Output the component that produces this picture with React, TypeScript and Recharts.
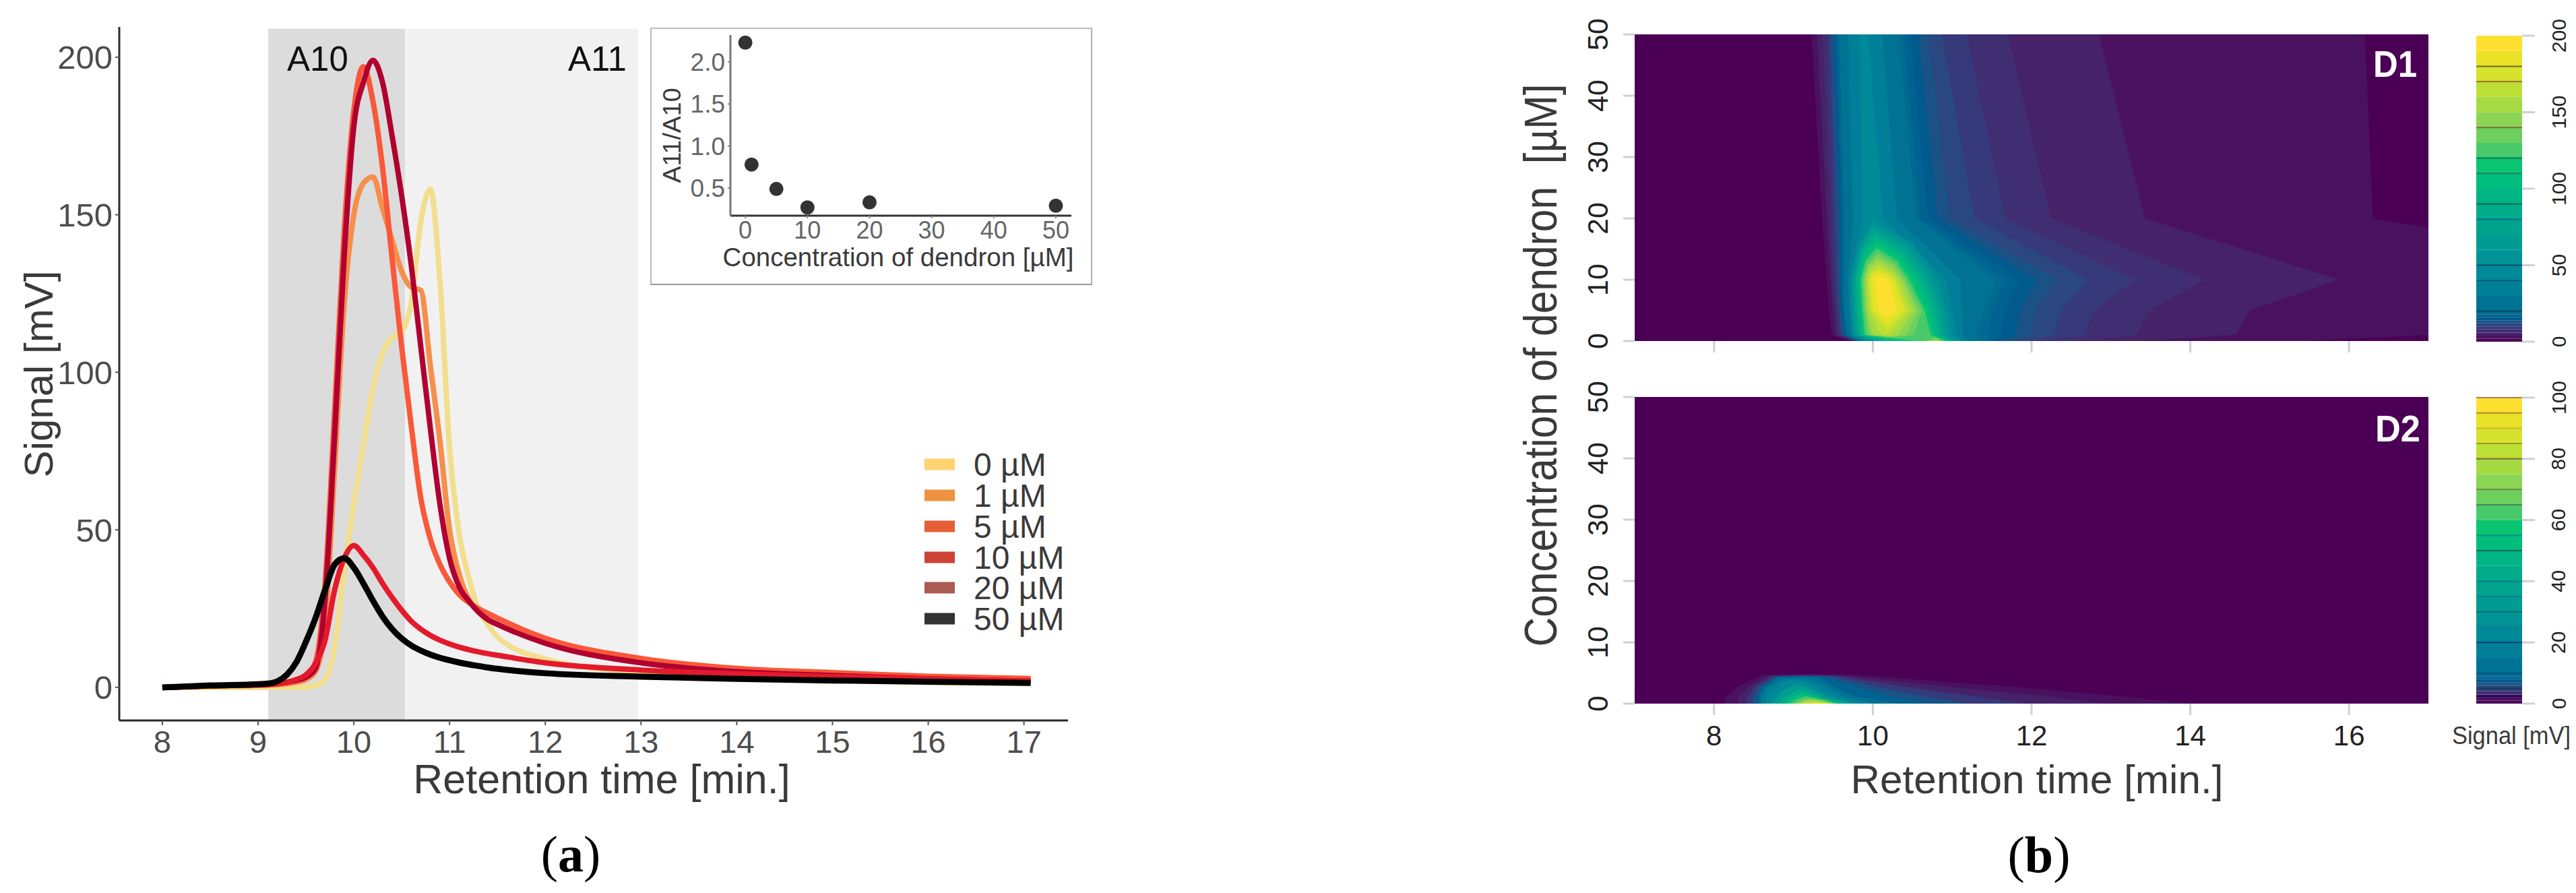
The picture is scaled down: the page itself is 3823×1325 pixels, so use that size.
import {
  Area,
  Bar,
  BarChart,
  ComposedChart,
  Line,
  ReferenceArea,
  ReferenceLine,
  Scatter,
  ScatterChart,
  XAxis,
  YAxis,
} from "recharts"

const SANS = "'Liberation Sans', Arial, sans-serif"

// panel (a): chromatograms, one value per entry of timeKnots
const timeKnots = [
  8, 8.5, 9, 9.1, 9.2, 9.3, 9.4, 9.5, 9.6, 9.7, 9.8, 9.9, 10, 10.1, 10.2, 10.3, 10.4, 10.5, 10.6, 10.7, 10.8, 10.9,
  11, 11.1, 11.2, 11.3, 11.4, 11.5, 12, 13, 14, 15, 16, 17.07,
]
const signal0 = [
  0, 0, 0, 0, 0, 0, 0, 0.1, 0.6, 2.5, 13, 37, 58, 77, 95, 106, 111, 113, 122, 148, 158, 129, 76, 49, 35, 25, 20, 16,
  9, 4.6, 3, 2.2, 1.6, 1.2,
]
const signal1 = [
  0, 0.4, 0.6, 0.7, 0.9, 1.1, 1.6, 2.5, 5, 20, 70, 122, 150, 160, 162, 152, 142, 132, 127, 126, 102, 78, 50, 36, 28,
  24, 21.5, 20, 14.5, 8.3, 5.4, 4.2, 3.2, 2.4,
]
const signal5 = [
  0, 0.5, 0.9, 1, 1.2, 1.6, 2.2, 3.2, 6, 28, 80, 137, 178, 192, 199, 192, 175, 156, 134, 108, 82, 58, 41, 32, 27.5,
  24, 21.5, 20, 14, 7.8, 5, 3.8, 2.7, 2,
]
const signal10 = [
  0, 0.5, 0.9, 1, 1.2, 1.6, 2.3, 3.5, 8, 33, 88, 145, 183, 197, 186, 165, 136, 108, 83, 60, 47, 39, 33.5, 29.5, 27,
  25, 23.5, 22, 15.6, 9.2, 6, 4.7, 3.5, 2.8,
]
const signal20 = [
  0, 0.5, 0.8, 0.9, 1.1, 1.6, 2.5, 4, 7.6, 15, 31, 41, 45, 42, 38, 33, 28.5, 24.5, 21, 18.5, 16.5, 15, 13.8, 12.8, 12,
  11.3, 10.7, 10.2, 7.8, 5.5, 4.3, 3.4, 2.7, 2,
]
const signal50 = [
  0, 0.6, 1, 1.2, 1.9, 4, 8, 14.5, 22, 31, 39, 41, 38, 33, 27.5, 22.5, 18.5, 15.5, 13.3, 11.7, 10.4, 9.4, 8.6, 7.9,
  7.3, 6.8, 6.3, 5.9, 4.5, 3.4, 2.7, 2.2, 1.8, 1.4,
]
const seriesKeys = ["c0", "c1", "c5", "c10", "c20", "c50"]
const seriesValues = [signal0, signal1, signal5, signal10, signal20, signal50]
const seriesColors = ["#f2df8e", "#f58f4b", "#b00030", "#f9583a", "#e31a2c", "#000000"]
const seriesWidths = [8, 8, 8, 8, 8, 9]
// the 10 uM series sits under the 5 uM one where they cross near the top
const drawOrder = [0, 1, 3, 2, 4, 5]

const legendLabels = ["0 µM", "1 µM", "5 µM", "10 µM", "20 µM", "50 µM"]
const legendColors = ["#ffd470", "#ee9240", "#e45f35", "#cc4437", "#ab5b52", "#333333"]
const legendRows = [689, 735, 781, 827, 872, 918]

const regionEdges = [9.105, 10.535, 12.97]
const signalTicks = [0, 50, 100, 150, 200]
const timeTicksA = [8, 9, 10, 11, 12, 13, 14, 15, 16, 17]

// inset
const insetConc = [0, 1, 5, 10, 20, 50]
const insetRatio = [2.23, 0.78, 0.49, 0.27, 0.33, 0.29]

// panel (b): contour bands, each row is [concentration, left time, right time]
type Row = [number, number, number]
const d1Levels = [0, 2, 4, 6, 8, 10, 12, 14, 16, 18, 20, 30, 40, 50, 60, 70, 80, 90, 100, 110, 120, 130, 140, 150, 160, 170, 180, 190, 200]
const d2Levels = [0, 1, 2, 3, 4, 5, 6, 7, 8, 9, 10, 15, 20, 25, 30, 35, 40, 45, 50, 55, 60, 65, 70, 75, 80, 85, 90, 95, 100]
const bandColors = [
  "#4b0055", "#4a125e", "#462268", "#402e72", "#36397a", "#2a4780", "#1a5286", "#005a8e", "#006290", "#006a90",
  "#007394", "#008098", "#008a98", "#009396", "#009b93", "#00a38e", "#00ac8a", "#00b483", "#00bd7c", "#09c570",
  "#49ca6a", "#6ccf5e", "#8ad553", "#a5da42", "#bdde35", "#d6e22b", "#e9e226", "#fde030",
]

const d1Contours: [number, Row[]][] = [
  [0, [[0, 7, 17], [50, 7, 17]]],
  [2, [[0, 9.71, 15.4], [1, 9.48, 17], [5, 9.45, 17], [10, 9.42, 17], [18.5, 9.37, 17], [20, 9.36, 16.3], [50, 9.23, 16.2]]],
  [4, [[0, 9.75, 13.4], [1, 9.53, 14.57], [5, 9.5, 14.75], [10, 9.47, 15.87], [20, 9.42, 13.43], [50, 9.3, 12.85]]],
  [6, [[0, 9.76, 12.6], [1, 9.56, 13.32], [5, 9.53, 13.49], [10, 9.5, 14.18], [20, 9.47, 12.25], [50, 9.37, 11.7]]],
  [8, [[0, 9.77, 12.2], [1, 9.58, 12.67], [5, 9.55, 12.78], [10, 9.53, 13.3], [20, 9.5, 11.67], [50, 9.43, 11.18]]],
  [10, [[0, 9.78, 11.95], [1, 9.6, 12.28], [5, 9.57, 12.37], [10, 9.55, 12.71], [20, 9.53, 11.28], [50, 9.46, 10.87]]],
  [12, [[0, 9.79, 11.77], [1, 9.62, 12], [5, 9.59, 12.04], [10, 9.57, 12.33], [20, 9.56, 10.97], [50, 9.48, 10.7]]],
  [14, [[0, 9.8, 11.65], [1, 9.64, 11.8], [5, 9.6, 11.85], [10, 9.59, 12.07], [20, 9.58, 10.82], [50, 9.5, 10.57]]],
  [16, [[0, 9.81, 11.52], [1, 9.65, 11.63], [5, 9.62, 11.67], [10, 9.6, 11.85], [20, 9.6, 10.7], [50, 9.53, 10.47]]],
  [18, [[0, 9.82, 11.45], [1, 9.67, 11.46], [5, 9.63, 11.5], [10, 9.615, 11.67], [20, 9.62, 10.6], [50, 9.555, 10.39]]],
  [20, [[0, 9.83, 11.4], [1, 9.68, 11.3], [5, 9.64, 11.41], [10, 9.63, 11.55], [20, 9.64, 10.55], [50, 9.58, 10.32]]],
  [30, [[0, 9.87, 11.24], [1, 9.72, 11.14], [5, 9.7, 11.12], [10, 9.69, 11.1], [20, 9.75, 10.3], [50, 9.69, 10.12]]],
  [40, [[0, 9.91, 11.13], [1, 9.74, 11.05], [5, 9.72, 11], [10, 9.71, 10.92], [20, 9.87, 10.13], [50, 9.835, 9.935]]],
  [50, [[0, 9.95, 11.09], [1, 9.76, 11], [5, 9.74, 10.93], [10, 9.73, 10.83], [15.8, 9.83, 10.51], [19.7, 10, 10]]],
  [60, [[0, 10.01, 11.05], [1, 9.78, 10.94], [5, 9.76, 10.89], [10, 9.75, 10.75], [15.4, 9.84, 10.46], [19, 10, 10]]],
  [70, [[0, 10.06, 11.02], [1, 9.8, 10.9], [5, 9.78, 10.85], [10, 9.77, 10.71], [15, 9.85, 10.43], [18.4, 10.01, 10.01]]],
  [80, [[0, 10.11, 10.99], [1, 9.82, 10.86], [5, 9.8, 10.81], [10, 9.78, 10.67], [14.6, 9.86, 10.4], [17.7, 10.02, 10.02]]],
  [90, [[0, 10.17, 10.97], [1, 9.84, 10.83], [5, 9.82, 10.77], [10, 9.8, 10.62], [14.2, 9.87, 10.37], [17, 10.03, 10.03]]],
  [100, [[0, 10.23, 10.95], [1, 9.86, 10.79], [5, 9.84, 10.73], [10, 9.82, 10.57], [13.8, 9.89, 10.36], [16.4, 10.04, 10.04]]],
  [110, [[0, 10.38, 10.93], [1, 9.88, 10.76], [5, 9.855, 10.69], [10, 9.84, 10.51], [13.4, 9.9, 10.33], [15.7, 10.05, 10.05]]],
  [120, [[0, 10.58, 10.91], [1, 9.9, 10.73], [5, 9.87, 10.65], [10, 9.85, 10.46], [13.1, 9.91, 10.3], [15.1, 10.05, 10.05]]],
  [130, [[0, 10.64, 10.89], [0.5, 10.8, 10.8]]],
  [130, [[0.5, 10.25, 10.25], [1, 9.93, 10.52], [5, 9.89, 10.62], [10, 9.87, 10.42], [12.6, 9.93, 10.28], [14.4, 10.06, 10.06]]],
  [140, [[0, 10.67, 10.87], [0.32, 10.8, 10.8]]],
  [140, [[0.7, 10.2, 10.2], [1, 9.96, 10.42], [5, 9.91, 10.57], [10, 9.89, 10.39], [12.3, 9.94, 10.26], [13.8, 10.06, 10.06]]],
  [150, [[0, 10.71, 10.85], [0.14, 10.8, 10.8]]],
  [150, [[0.8, 10.2, 10.2], [1, 10, 10.32], [5, 9.93, 10.53], [10, 9.91, 10.36], [11.9, 9.95, 10.24], [13.1, 10.06, 10.06]]],
  [160, [[0.95, 10.17, 10.17], [1, 10.1, 10.22], [5, 9.955, 10.47], [10, 9.93, 10.32], [11.4, 9.97, 10.21], [12.4, 10.07, 10.07]]],
  [170, [[1.8, 10.18, 10.18], [5, 9.98, 10.42], [10, 9.95, 10.28], [11.1, 9.98, 10.18], [11.8, 10.08, 10.08]]],
  [180, [[2.9, 10.18, 10.18], [5, 10.01, 10.37], [10, 9.98, 10.25], [10.7, 10, 10.16], [11.1, 10.08, 10.08]]],
  [190, [[4, 10.18, 10.18], [5, 10.08, 10.3], [10, 10.03, 10.19], [10.5, 10.09, 10.09]]],
]

const d2Contours: [number, Row[]][] = [
  [0, [[0, 7, 17], [50, 7, 17]]],
  [1, [[0, 8.15, 13.9], [1, 8.12, 13.3], [2.7, 8.3, 11.8], [4.7, 8.6, 9.8], [4.8, 9.15, 9.15]]],
  [2, [[0, 8.3, 12.9], [1, 8.3, 12.3], [2.7, 8.42, 11], [4.6, 8.7, 9.65], [4.7, 9.15, 9.15]]],
  [4, [[0, 8.4, 11.9], [1, 8.42, 11.4], [2.7, 8.5, 10.45], [4.5, 8.74, 9.55], [4.6, 9.15, 9.15]]],
  [6, [[0, 8.47, 11.2], [1, 8.5, 10.75], [2.7, 8.56, 10.05], [4.45, 8.78, 9.48], [4.55, 9.15, 9.15]]],
  [8, [[0, 8.53, 10.7], [1, 8.55, 10.3], [2.7, 8.6, 9.8], [4.4, 8.82, 9.4], [4.5, 9.15, 9.15]]],
  [10, [[0, 8.56, 10.3], [1.25, 8.58, 9.75], [2.5, 8.62, 9.55], [4.2, 8.8, 9.3], [4.4, 9.1, 9.1]]],
  [15, [[0, 8.6, 10], [1, 8.62, 9.65], [2.5, 8.68, 9.45], [3.9, 8.85, 9.2], [4.1, 9.05, 9.05]]],
  [20, [[0, 8.65, 9.9], [1, 8.68, 9.55], [2.3, 8.75, 9.35], [3.6, 8.9, 9.15], [3.8, 9.05, 9.05]]],
  [30, [[0, 8.72, 9.8], [1, 8.78, 9.45], [2, 8.85, 9.3], [3, 9, 9.1], [3.2, 9.05, 9.05]]],
  [40, [[0, 8.8, 9.7], [1, 8.88, 9.38], [2.4, 9.08, 9.08]]],
  [50, [[0, 8.88, 9.6], [0.8, 8.95, 9.35], [1.8, 9.12, 9.12]]],
  [60, [[0, 8.95, 9.55], [0.6, 9.02, 9.4], [1.2, 9.15, 9.15]]],
  [70, [[0, 9.03, 9.5], [0.45, 9.08, 9.38], [0.8, 9.2, 9.2]]],
  [80, [[0, 9.08, 9.47], [0.3, 9.13, 9.38], [0.5, 9.22, 9.22]]],
  [90, [[0, 9.2, 9.35], [0.2, 9.26, 9.26]]],
]

const timeTicksB = [8, 10, 12, 14, 16]
const concTicks = [0, 10, 20, 30, 40, 50]
const d1BarTicks = [0, 50, 100, 150, 200]
const d2BarTicks = [0, 20, 40, 60, 80, 100]
// darker hairlines between some colour bar steps
const d1Seams: [number, string][] = [
  [180, "#6f6a30"], [170, "#a07030"], [140, "#7a6a40"], [120, "#007a5a"], [110, "#2a7a60"], [90, "#006a50"],
  [80, "#106a90"], [50, "#004a70"], [40, "#00587a"], [20, "#004a50"],
]
const d2Seams: [number, string][] = [
  [100, "#b08050"], [95, "#b08a30"], [90, "#c8b840"], [85, "#9a9a30"], [80, "#7a6a40"], [70, "#6a8a50"], [65, "#4a8060"],
  [55, "#00908a"], [50, "#006a50"], [40, "#107a90"], [35, "#107a90"], [30, "#006a6a"], [25, "#107a90"], [20, "#00387a"],
  [10, "#00587a"], [5, "#004a50"], [2.5, "#20004a"],
]

const PALE_TICK = { stroke: "#cfcfd8", strokeWidth: 3 }

function RotatedTick({ x, y, payload, shift, size }: any) {
  const cx = x + shift
  return (
    <text
      x={cx}
      y={y}
      transform={`rotate(-90 ${cx} ${y})`}
      textAnchor="middle"
      dominantBaseline="central"
      fontSize={size}
      fill="#222222"
      fontFamily={SANS}
    >
      {payload.value}
    </text>
  )
}

function Chromatogram() {
  const rows = timeKnots.map((t, i) => {
    const row: Record<string, number> = { t }
    seriesKeys.forEach((key, s) => {
      row[key] = seriesValues[s][i]
    })
    return row
  })
  return (
    <div style={{ position: "absolute", left: 0, top: 0 }}>
      <ComposedChart width={1600} height={1160} data={rows} margin={{ top: 40, right: 15, bottom: 0, left: 0 }}>
        <ReferenceArea x1={regionEdges[0]} x2={regionEdges[1]} y1={-10.5} y2={209} fill="#dcdcdc" fillOpacity={1} stroke="none" />
        <ReferenceArea x1={regionEdges[1]} x2={regionEdges[2]} y1={-10.5} y2={209} fill="#f1f1f1" fillOpacity={1} stroke="none" />
        <XAxis
          dataKey="t"
          type="number"
          domain={[7.55, 17.46]}
          ticks={timeTicksA}
          interval={0}
          height={91}
          tickSize={7}
          tickMargin={8}
          tick={{ fontSize: 47, fill: "#4d4d4d", fontFamily: SANS }}
          axisLine={{ stroke: "#2b2b2b", strokeWidth: 3 }}
          tickLine={{ stroke: "#555", strokeWidth: 2 }}
        />
        <YAxis
          type="number"
          domain={[-10.5, 209.6]}
          ticks={signalTicks}
          interval={0}
          width={177}
          tickSize={6}
          tickMargin={4}
          tick={{ fontSize: 49, fill: "#4d4d4d", fontFamily: SANS }}
          axisLine={{ stroke: "#2b2b2b", strokeWidth: 3 }}
          tickLine={{ stroke: "#555", strokeWidth: 2 }}
        />
        {drawOrder.map((s) => (
          <Line
            key={seriesKeys[s]}
            dataKey={seriesKeys[s]}
            type="monotone"
            stroke={seriesColors[s]}
            strokeWidth={seriesWidths[s]}
            dot={false}
            isAnimationActive={false}
          />
        ))}
      </ComposedChart>
    </div>
  )
}

function Inset() {
  const points = insetConc.map((conc, i) => ({ conc, ratio: insetRatio[i] }))
  return (
    <div
      style={{
        position: "absolute",
        left: 965,
        top: 41,
        width: 652,
        height: 378,
        background: "#fff",
        borderStyle: "solid",
        borderWidth: 2,
        borderColor: "#bdbdbd #b0b0b0 #999 #b8b8b8",
      }}
    >
      <div style={{ position: "absolute", left: -2, top: -2 }}>
        <ScatterChart width={655} height={380} margin={{ top: 11, right: 30, bottom: 0, left: 0 }}>
          <XAxis
            dataKey="conc"
            type="number"
            domain={[-2.4, 52.5]}
            ticks={[0, 10, 20, 30, 40, 50]}
            interval={0}
            height={101}
            tickSize={4}
            tickMargin={4}
            tick={{ fontSize: 36, fill: "#666", fontFamily: SANS }}
            axisLine={{ stroke: "#333", strokeWidth: 3 }}
            tickLine={{ stroke: "#888", strokeWidth: 2 }}
          />
          <YAxis
            dataKey="ratio"
            type="number"
            domain={[0.172, 2.32]}
            ticks={[0.5, 1, 1.5, 2]}
            interval={0}
            width={119}
            tickSize={4}
            tickMargin={4}
            tickFormatter={(v) => Number(v).toFixed(1)}
            tick={{ fontSize: 37, fill: "#666", fontFamily: SANS }}
            axisLine={{ stroke: "#777", strokeWidth: 3 }}
            tickLine={{ stroke: "#888", strokeWidth: 2 }}
          />
          <Scatter
            data={points}
            fill="#333333"
            isAnimationActive={false}
            shape={(p: any) => <circle cx={p.cx} cy={p.cy} r={10.5} fill="#333333" />}
          />
        </ScatterChart>
      </div>
    </div>
  )
}

function ContourPanel({
  top,
  contours,
  levels,
  showTimeLabels,
}: {
  top: number
  contours: [number, Row[]][]
  levels: number[]
  showTimeLabels: boolean
}) {
  return (
    <div style={{ position: "absolute", left: 2300, top: top - 51 }}>
      <ComposedChart layout="vertical" width={1320} height={630} margin={{ top: 51, right: 16, bottom: 0, left: 0 }}>
        <XAxis
          type="number"
          domain={[7, 17]}
          ticks={timeTicksB}
          interval={0}
          height={124}
          tickSize={17}
          tickMargin={15}
          tickFormatter={showTimeLabels ? undefined : () => ""}
          tick={{ fontSize: 42, fill: "#222", fontFamily: SANS }}
          axisLine={false}
          tickLine={PALE_TICK}
        />
        <YAxis
          dataKey="c"
          type="number"
          reversed
          domain={[0, 50]}
          ticks={concTicks}
          interval={0}
          width={126}
          tickSize={17}
          tickMargin={0}
          tick={<RotatedTick shift={-38} size={43} />}
          axisLine={false}
          tickLine={PALE_TICK}
        />
        {contours.map(([level, rows], i) => (
          <Area
            key={i}
            data={rows.map(([c, left, right]) => ({ c, range: [left, right] }))}
            dataKey="range"
            type="linear"
            fill={bandColors[levels.indexOf(level)]}
            fillOpacity={1}
            stroke="none"
            dot={false}
            activeDot={false}
            isAnimationActive={false}
          />
        ))}
      </ComposedChart>
    </div>
  )
}

function ColorBar({
  top,
  levels,
  ticks,
  seams,
}: {
  top: number
  levels: number[]
  ticks: number[]
  seams: [number, string][]
}) {
  const row: Record<string, number | string> = { name: "signal" }
  bandColors.forEach((_, i) => {
    row[`b${i}`] = levels[i + 1] - levels[i]
  })
  return (
    <div style={{ position: "absolute", left: 3675, top: top - 50 }}>
      <BarChart
        width={148}
        height={554}
        data={[row]}
        barCategoryGap={0}
        margin={{ top: 50, right: 0, bottom: 50, left: 0 }}
      >
        <XAxis dataKey="name" hide />
        <YAxis
          orientation="right"
          type="number"
          domain={[0, levels[levels.length - 1]]}
          ticks={ticks}
          interval={0}
          width={80}
          tickSize={19}
          tickMargin={0}
          tick={<RotatedTick shift={35} size={30} />}
          axisLine={false}
          tickLine={PALE_TICK}
        />
        {bandColors.map((color, i) => (
          <Bar key={i} dataKey={`b${i}`} stackId="bar" fill={color} isAnimationActive={false} />
        ))}
        {seams.map(([value, color]) => (
          <ReferenceLine key={value} y={value} stroke={color} strokeWidth={2} />
        ))}
      </BarChart>
    </div>
  )
}

function Labels() {
  const title = { fontFamily: SANS, fill: "#3a3a3a" }
  return (
    <svg width={3823} height={1325} style={{ position: "absolute", left: 0, top: 0, pointerEvents: "none" }}>
      <text x={426} y={105} fontSize={51} fontFamily={SANS} fill="#111">A10</text>
      <text x={843} y={105} fontSize={51} fontFamily={SANS} fill="#111">A11</text>
      <text x={78} y={555} fontSize={60} textAnchor="middle" transform="rotate(-90 78 555)" {...title}>Signal [mV]</text>
      <text x={893} y={1177} fontSize={61} textAnchor="middle" {...title}>Retention time [min.]</text>
      <text x={847} y={1293} fontSize={76} textAnchor="middle" fontFamily="'Liberation Serif', serif" fill="#000">
        (<tspan fontWeight="bold">a</tspan>)
      </text>

      <text x={1010} y={201} fontSize={37.5} textAnchor="middle" transform="rotate(-90 1010 201)" {...title}>A11/A10</text>
      <text x={1333} y={395} fontSize={38.5} textAnchor="middle" {...title}>Concentration of dendron [µM]</text>

      {legendLabels.map((label, i) => (
        <g key={label}>
          <rect x={1372} y={legendRows[i] - 8.5} width={45} height={17} fill={legendColors[i]} />
          <text x={1445} y={legendRows[i] + 17} fontSize={48} {...title}>{label}</text>
        </g>
      ))}

      <text
        x={2310}
        y={542}
        fontSize={68}
        textAnchor="middle"
        textLength={835}
        lengthAdjust="spacingAndGlyphs"
        transform="rotate(-90 2310 542)"
        xmlSpace="preserve"
        {...title}
      >
        Concentration of dendron  [µM]
      </text>
      <text x={3023} y={1177} fontSize={60} textAnchor="middle" textLength={553} lengthAdjust="spacingAndGlyphs" {...title}>
        Retention time [min.]
      </text>
      <text x={3727} y={1104} fontSize={36} textAnchor="middle" textLength={176} lengthAdjust="spacingAndGlyphs" {...title}>
        Signal [mV]
      </text>
      <text x={3026} y={1294} fontSize={76} textAnchor="middle" fontFamily="'Liberation Serif', serif" fill="#000">
        (<tspan fontWeight="bold">b</tspan>)
      </text>
      <text x={3522} y={114} fontSize={56} fontWeight="bold" textLength={65} lengthAdjust="spacingAndGlyphs" fontFamily={SANS} fill="#fff">D1</text>
      <text x={3525} y={655} fontSize={56} fontWeight="bold" textLength={67} lengthAdjust="spacingAndGlyphs" fontFamily={SANS} fill="#fff">D2</text>
    </svg>
  )
}

export default function App() {
  return (
    <div style={{ position: "absolute", left: 0, top: 0, width: 3823, height: 1325, background: "#fff", overflow: "hidden" }}>
      <Chromatogram />
      <Inset />
      <ContourPanel top={51} contours={d1Contours} levels={d1Levels} showTimeLabels={false} />
      <ContourPanel top={589} contours={d2Contours} levels={d2Levels} showTimeLabels />
      <ColorBar top={53} levels={d1Levels} ticks={d1BarTicks} seams={d1Seams} />
      <ColorBar top={590} levels={d2Levels} ticks={d2BarTicks} seams={d2Seams} />
      <Labels />
    </div>
  )
}
